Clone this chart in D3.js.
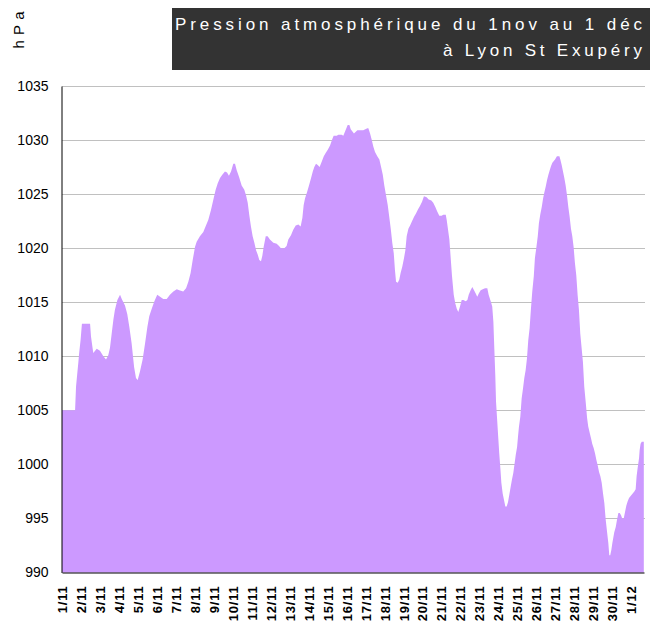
<!DOCTYPE html>
<html><head><meta charset="utf-8">
<script src="https://cdn.jsdelivr.net/npm/d3@7/dist/d3.min.js"></script>
<style>body{margin:0;background:#fff}text{font-family:"Liberation Sans",Arial,sans-serif}</style>
</head><body><svg id="c" width="650" height="642"></svg>
<script>
// time in days since 1 Nov 00h
const days = [0,0.69,0.74,0.81,0.86,0.91,0.98,1.05,1.48,1.53,1.60,1.65,1.83,2.00,2.18,2.32,2.44,2.53,2.62,2.71,2.79,2.92,3.06,3.15,3.32,3.44,3.55,3.67,3.80,3.90,3.99,4.11,4.25,4.38,4.50,4.60,4.73,4.87,5.02,5.17,5.34,5.52,5.69,5.87,6.05,6.18,6.39,6.54,6.66,6.78,6.89,7.01,7.10,7.27,7.45,7.54,
7.71,7.85,7.98,8.10,8.21,8.33,8.45,8.59,8.70,8.80,8.91,9.03,9.12,9.21,9.33,9.47,9.61,9.70,9.79,9.87,9.96,10.05,10.14,10.23,10.32,10.40,10.49,10.56,10.63,10.74,10.84,10.96,11.14,11.32,11.44,11.54,11.72,11.84,11.93,12.07,12.19,12.32,12.46,12.58,12.67,12.74,12.81,12.92,13.02,13.13,13.22,13.30,13.39,13.48,13.58,13.69,13.80,13.90,14.01,14.13,14.25,14.32,14.48,14.57,14.74,14.83,14.92,15.06,15.15,15.22,15.39,
15.57,15.88,16.10,16.15,16.24,16.33,16.41,16.50,16.62,16.73,16.82,16.91,16.99,17.08,17.17,17.25,17.33,17.41,17.49,17.55,17.61,17.70,17.78,17.85,17.94,18.03,18.10,18.17,18.26,18.35,18.45,18.56,18.66,18.77,18.87,18.98,19.08,19.22,19.33,19.47,19.57,19.68,19.78,19.89,20.01,20.10,20.23,20.28,20.35,20.42,20.49,20.56,20.65,20.73,20.81,20.89,20.98,21.07,21.16,21.28,21.37,21.44,21.54,21.63,21.72,21.81,21.89,21.97,22.07,22.18,22.30,22.42,22.49,22.60,22.68,22.74,22.79,22.84,
22.88,22.95,23.00,23.05,23.11,23.16,23.23,23.30,23.37,23.44,23.51,23.58,23.65,23.72,23.79,23.86,23.92,23.99,24.04,24.09,24.16,24.23,24.30,24.37,24.44,24.51,24.58,24.65,24.72,24.79,24.87,24.93,25.00,25.08,25.14,25.21,25.29,25.36,25.42,25.50,25.57,25.64,25.71,25.78,25.85,25.99,26.09,26.22,26.27,26.34,26.41,26.48,26.55,26.62,26.69,26.76,26.83,26.90,26.97,27.04,27.11,27.18,27.25,27.32,27.40,27.46,27.53,27.61,27.68,27.74,27.82,27.89,27.95,28.03,28.10,28.17,28.24,28.31,28.38,28.45,28.52,28.59,28.66,28.73,28.80,28.85,28.90,28.96,29.01,29.11,29.19,29.26,29.33,29.40,29.47,29.53,29.61,29.68,29.75,29.82,29.89,30.03,30.17,30.24,30.29,30.34,30.42,30.45,30.50,30.56,30.67];
const hpa = [1005.0,1005.0,1007.2,1008.5,1009.4,1010.4,1011.5,1013.0,1013.0,1011.8,1010.9,1010.3,1010.7,1010.5,1010.0,1009.7,1010.1,1010.8,1012.1,1013.4,1014.3,1015.2,1015.7,1015.3,1014.7,1013.9,1012.7,1011.2,1009.0,1008.0,1007.8,1008.6,1009.7,1011.2,1012.7,1013.7,1014.4,1015.1,1015.7,1015.5,1015.3,1015.3,1015.7,1016.0,1016.2,1016.1,1016.0,1016.3,1016.9,1017.7,1018.9,1020.1,1020.6,1021.1,1021.5,1021.9,
1022.6,1023.5,1024.5,1025.4,1026.0,1026.5,1026.8,1027.1,1027.0,1026.7,1027.1,1027.8,1027.8,1027.2,1026.6,1025.8,1025.4,1024.9,1024.2,1023.1,1022.0,1021.1,1020.5,1019.8,1019.4,1018.9,1018.8,1019.3,1020.1,1021.1,1021.1,1020.8,1020.5,1020.4,1020.2,1020.0,1020.0,1020.2,1020.8,1021.2,1021.7,1022.1,1022.2,1022.0,1022.8,1024.0,1024.6,1025.2,1025.8,1026.5,1027.1,1027.5,1027.8,1027.7,1027.5,1028.0,1028.5,1028.8,1029.1,1029.5,1030.1,1030.4,1030.4,1030.5,1030.5,1030.4,1030.8,1031.4,1031.4,1031.0,1030.6,
1030.9,1030.9,1031.1,1031.1,1030.6,1030.0,1029.4,1028.9,1028.5,1028.2,1027.5,1026.8,1025.8,1024.9,1024.0,1022.9,1021.8,1020.5,1019.5,1018.0,1016.9,1016.8,1017.1,1017.7,1018.3,1019.1,1019.8,1021.1,1021.8,1022.1,1022.5,1022.9,1023.2,1023.6,1023.9,1024.3,1024.8,1024.7,1024.5,1024.4,1024.2,1023.8,1023.4,1023.0,1023.0,1023.1,1023.1,1022.6,1021.7,1020.8,1019.1,1017.4,1015.7,1014.9,1014.4,1014.1,1014.6,1015.2,1015.2,1015.1,1015.2,1015.7,1016.1,1016.4,1016.1,1015.8,1015.5,1015.8,1016.1,1016.2,1016.3,1016.3,1015.7,1015.1,1014.6,1013.2,1010.7,1008.3,
1005.8,1003.8,1002.4,1001.0,999.6,998.3,997.3,996.7,996.1,996.1,996.5,997.2,997.9,998.6,999.2,1000.1,1000.9,1001.6,1002.6,1003.5,1004.4,1006.1,1007.0,1008.0,1008.7,1009.8,1011.5,1012.6,1014.4,1016.0,1017.4,1019.1,1020.0,1021.1,1022.3,1023.1,1023.8,1024.6,1025.1,1025.7,1026.3,1026.8,1027.2,1027.6,1027.9,1028.2,1028.5,1028.5,1028.2,1027.7,1027.1,1026.5,1025.8,1024.9,1023.8,1022.9,1021.8,1021.1,1020.1,1018.6,1017.5,1015.7,1014.3,1012.1,1010.6,1009.5,1007.2,1005.7,1004.3,1003.5,1002.9,1002.4,1001.9,1001.5,1001.0,1000.4,999.9,999.3,998.9,998.3,997.3,996.4,994.9,993.8,992.7,991.6,991.6,992.1,992.7,993.7,994.2,994.9,995.5,995.5,995.3,995.0,995.0,995.6,996.2,996.6,996.9,997.2,997.5,997.7,998.9,999.6,1000.6,1001.3,1001.9,1002.1,1002.1];
const dayLabels = ["1/11","2/11","3/11","4/11","5/11","6/11","7/11","8/11","9/11","10/11","11/11","12/11","13/11","14/11","15/11","16/11","17/11","18/11","19/11","20/11","21/11","22/11","23/11","24/11","25/11","26/11","27/11","28/11","29/11","30/11","1/12"];
const yTicks = [990,995,1000,1005,1010,1015,1020,1025,1030,1035];
const titleLines = ["Pression atmosphérique du 1nov au 1 déc","à Lyon St Exupéry"];
const yUnit = "hPa";

const data = days.map((d,i)=>({d, v:hpa[i]}));
const svg = d3.select("#c");
const x = d3.scaleLinear().domain([0, 30.68]).range([62, 644]);
const y = d3.scaleLinear().domain([990, 1035]).range([572.5, 86]);

// gridlines
svg.append("g").selectAll("line").data(yTicks.filter(t=>t>990)).join("line")
  .attr("x1", x(0)).attr("x2", 645)
  .attr("y1", d=>Math.round(y(d))+0.5).attr("y2", d=>Math.round(y(d))+0.5)
  .attr("stroke", "#c0c0c0").attr("stroke-width", 1);

// area
const area = d3.area().x(p=>x(p.d)).y0(y(990)).y1(p=>y(p.v));
svg.append("path").datum(data).attr("d", area).attr("fill", "#cc99ff");

// y axis
const ya = svg.append("g").attr("transform", "translate(61.5,0)")
  .call(d3.axisLeft(y).tickValues(yTicks).tickSize(0).tickSizeOuter(0).tickPadding(13).tickFormat(d3.format("d")));
ya.select(".domain").attr("stroke", "#000");
ya.selectAll("text").style("font-size", "14px").attr("fill", "#000");

// x axis
const xa = svg.append("g").attr("transform", "translate(0,572.5)")
  .call(d3.axisBottom(x).tickValues(d3.range(dayLabels.length)).tickSize(0).tickSizeOuter(0).tickFormat(i=>dayLabels[i]));
xa.select(".domain").attr("stroke", "#000");
xa.selectAll("text").attr("transform", "rotate(-90)").attr("x", -13).attr("y", 0).attr("dy", "0.35em")
  .style("text-anchor", "end").style("font-size", "13px").style("font-weight", "bold").style("letter-spacing", "0.8px").attr("fill", "#000");

// title box
svg.append("rect").attr("x", 172).attr("y", 8).attr("width", 478).attr("height", 62).attr("fill", "#333333");
const tl = [[titleLines[0], 30, 467], [titleLines[1], 56, 199]];
svg.append("g").selectAll("text").data(tl).join("text")
  .attr("x", 642).attr("y", d=>d[1]).attr("text-anchor", "end")
  .attr("textLength", d=>d[2]).attr("lengthAdjust", "spacing")
  .attr("fill", "#fff").style("font-size", "17px").text(d=>d[0]);

// unit label
svg.append("text").attr("transform", "translate(24,30) rotate(-90)")
  .attr("text-anchor", "middle").attr("textLength", 37).attr("lengthAdjust", "spacing")
  .style("font-size", "15px").attr("fill", "#000").text(yUnit);
</script></body></html>
